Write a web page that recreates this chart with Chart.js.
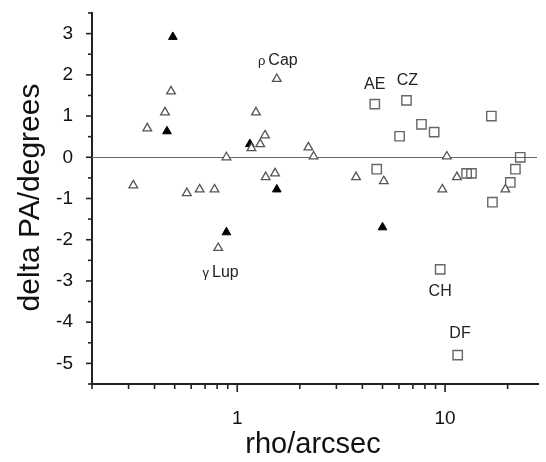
<!DOCTYPE html>
<html>
<head>
<meta charset="utf-8">
<script src="https://cdn.jsdelivr.net/npm/chart.js@4/dist/chart.umd.min.js"></script>
<style>
  html, body { margin: 0; padding: 0; background: #fff; overflow: hidden; }
</style>
</head>
<body>
<canvas id="chart" width="546" height="462"></canvas>
<script>
// open triangles
const openTriRho = [0.316, 0.369, 0.449, 0.48, 0.572, 0.659, 0.777, 0.887, 0.81, 1.23, 1.17, 1.29, 1.36, 1.37, 1.52, 1.55, 2.20, 2.33, 3.73, 5.07, 10.2, 9.7, 11.4, 19.5];
const openTriDpa = [-0.68, 0.70, 1.09, 1.60, -0.87, -0.78, -0.78, 0.0, -2.2, 1.09, 0.22, 0.32, 0.53, -0.48, -0.39, 1.9, 0.24, 0.02, -0.48, -0.58, 0.02, -0.78, -0.48, -0.78];
// filled triangles
const fillTriRho = [0.459, 0.49, 0.887, 1.15, 1.55, 5.0];
const fillTriDpa = [0.63, 2.92, -1.82, 0.32, -0.78, -1.70];
// open squares
const squareRho = [4.59, 4.69, 6.04, 6.52, 7.70, 8.86, 9.47, 11.5, 12.7, 13.4, 16.7, 16.9, 20.6, 21.8, 23.0];
const squareDpa = [1.29, -0.29, 0.51, 1.38, 0.80, 0.61, -2.72, -4.80, -0.39, -0.39, 1.0, -1.09, -0.61, -0.29, 0.0];

// star labels
const labelName = ['Cap', 'Lup', 'AE', 'CZ', 'CH', 'DF'];
const labelGreek = ['\u03c1', '\u03b3', '', '', '', ''];
const labelRho = [1.66, 0.877, 4.59, 6.59, 9.47, 11.8];
const labelDpa = [2.35, -2.79, 1.77, 1.87, -3.25, -4.27];

// axes
const xMajor = [1, 10];
const xMinor = [0.2, 0.3, 0.4, 0.5, 0.6, 0.7, 0.8, 0.9, 2, 3, 4, 5, 6, 7, 8, 9, 20];
const yMajor = [-5, -4, -3, -2, -1, 0, 1, 2, 3];
const yMinor = [-5.5, -4.5, -3.5, -2.5, -1.5, -0.5, 0.5, 1.5, 2.5, 3.5];

const FONT = '"Liberation Sans", Arial, sans-serif';

const pts = (xs, ys) => xs.map((x, i) => ({ x, y: ys[i] }));

const decor = {
  id: 'decor',
  beforeDatasetsDraw(chart) {
    const { ctx, chartArea: a, scales: { x, y } } = chart;
    ctx.save();
    // zero line
    const y0 = Math.round(y.getPixelForValue(0)) + 0.5;
    ctx.strokeStyle = '#666';
    ctx.lineWidth = 1;
    ctx.beginPath();
    ctx.moveTo(a.left, y0);
    ctx.lineTo(a.right - 1, y0);
    ctx.stroke();
    ctx.restore();
  },
  afterDraw(chart) {
    const { ctx, chartArea: a, scales: { x, y } } = chart;
    ctx.save();
    ctx.strokeStyle = '#222';
    ctx.lineWidth = 1.6;
    // x ticks
    const tickX = (v, len) => {
      const px = x.getPixelForValue(v);
      ctx.beginPath();
      ctx.moveTo(px, a.bottom);
      ctx.lineTo(px, a.bottom + len);
      ctx.stroke();
    };
    xMajor.forEach(v => tickX(v, 8));
    xMinor.forEach(v => tickX(v, 5));
    // y ticks
    const tickY = (v, len) => {
      const py = y.getPixelForValue(v);
      ctx.beginPath();
      ctx.moveTo(a.left, py);
      ctx.lineTo(a.left - len, py);
      ctx.stroke();
    };
    yMajor.forEach(v => tickY(v, 6));
    yMinor.forEach(v => tickY(v, 4));

    // axis titles
    ctx.fillStyle = '#111';
    ctx.font = '29px ' + FONT;
    ctx.textAlign = 'center';
    ctx.textBaseline = 'alphabetic';
    ctx.fillText('rho/arcsec', (a.left + a.right) / 2 - 2, 453);
    ctx.translate(39, (a.top + a.bottom) / 2 - 1);
    ctx.rotate(-Math.PI / 2);
    ctx.font = '30px ' + FONT;
    ctx.fillText('delta PA/degrees', 0, 0);
    ctx.restore();

    // star labels
    ctx.save();
    ctx.fillStyle = '#222';
    ctx.textBaseline = 'middle';
    labelName.forEach((name, i) => {
      const px = x.getPixelForValue(labelRho[i]);
      const py = y.getPixelForValue(labelDpa[i]);
      ctx.font = '16px ' + FONT;
      ctx.textAlign = 'center';
      ctx.fillText(name, px, py);
      if (labelGreek[i]) {
        const w = ctx.measureText(name).width;
        ctx.font = '13px ' + FONT;
        ctx.textAlign = 'right';
        ctx.fillText(labelGreek[i], px - w / 2 - 3, py + 1);
      }
    });
    ctx.restore();
  }
};

new Chart(document.getElementById('chart'), {
  type: 'scatter',
  data: {
    datasets: [
      {
        label: 'open',
        data: pts(openTriRho, openTriDpa),
        pointStyle: 'triangle',
        pointRadius: 5,
        borderColor: '#555',
        backgroundColor: '#fff',
        borderWidth: 1.3
      },
      {
        label: 'filled',
        data: pts(fillTriRho, fillTriDpa),
        pointStyle: 'triangle',
        pointRadius: 5,
        borderColor: '#000',
        backgroundColor: '#000',
        borderWidth: 1
      },
      {
        label: 'squares',
        data: pts(squareRho, squareDpa),
        pointStyle: 'rect',
        pointRadius: 6.6,
        borderColor: '#666',
        backgroundColor: 'rgba(255,255,255,0)',
        borderWidth: 1.4
      }
    ]
  },
  options: {
    responsive: false,
    animation: false,
    events: [],
    layout: { padding: { left: 0, right: 1, top: 13, bottom: 0 } },
    plugins: { legend: { display: false }, tooltip: { enabled: false } },
    scales: {
      x: {
        type: 'logarithmic',
        min: 0.2,
        max: 28,
        grid: { display: false },
        border: { display: true, color: '#222', width: 2 },
        afterBuildTicks: s => { s.ticks = xMajor.map(v => ({ value: v })); },
        ticks: {
          color: '#111',
          font: { family: FONT, size: 19 },
          padding: 15,
          autoSkip: false,
          maxRotation: 0,
          callback: v => String(v)
        },
        afterFit: s => { s.height = 78; s.paddingLeft = 0; s.paddingRight = 0; }
      },
      y: {
        min: -5.5,
        max: 3.5,
        grid: { display: false },
        border: { display: true, color: '#222', width: 2 },
        afterBuildTicks: s => { s.ticks = yMajor.map(v => ({ value: v })); },
        ticks: {
          color: '#111',
          font: { family: FONT, size: 19 },
          padding: 11,
          autoSkip: false,
          callback: v => String(v)
        },
        afterFit: s => { s.width = 92; s.paddingTop = 0; s.paddingBottom = 0; }
      }
    }
  },
  plugins: [decor]
});
</script>
</body>
</html>
